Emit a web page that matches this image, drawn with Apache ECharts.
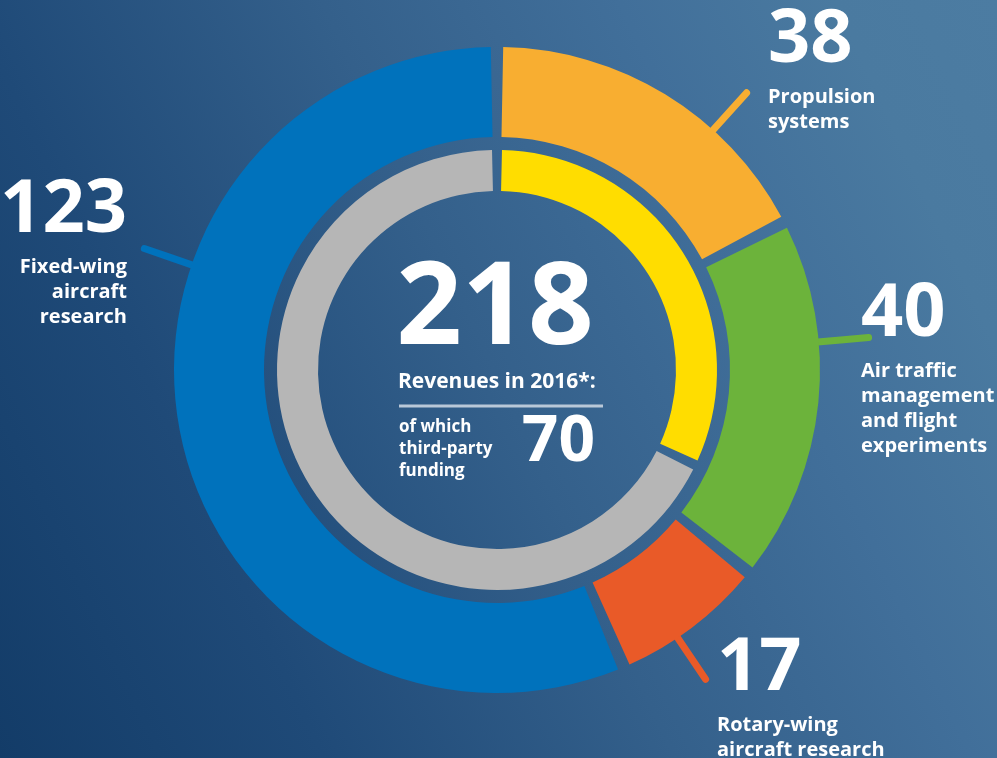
<!DOCTYPE html>
<html lang="en">
<head>
    <meta charset="utf-8">
    <title>Revenues in 2016</title>
    <script src="https://cdn.jsdelivr.net/npm/echarts@6/dist/echarts.min.js"></script>
    <style type="text/css">
        html,
        body {
            height: 100%;
            margin: 0;
        }

        body {
            background: linear-gradient(65deg, #133c68 0%, #1f4a78 24%, #34608b 50%, #416f9a 72%, #4a7aa0 88%, #4c7ca2 100%);
        }
    </style>
</head>

<body>
    <div id="main" style="width:997px;height:758px;"></div>
    <script type="text/javascript">
        // outer ring: revenues by research field
        var fieldNames = ['Propulsion\nsystems', 'Air traffic\nmanagement\nand flight\nexperiments', 'Rotary-wing\naircraft research', 'Fixed-wing\naircraft\nresearch'];
        var fieldValues = [38, 40, 17, 123];
        var fieldColors = ['#f8ae31', '#6cb33b', '#e95a28', '#0072bc'];

        // inner ring: third-party funding share
        var fundingNames = ['third-party funding', 'other'];
        var fundingValues = [70, 148];
        var fundingColors = ['#ffdd00', '#b6b6b6'];

        var centerTitle = 'Revenues in 2016*:';
        var centerSub = 'of which\nthird-party\nfunding';

        // callout placement (leader angle from 12 o'clock, label anchor)
        var callouts = [
            { angle: 42, x: 768, y: -3, align: 'left' },
            { angle: 85, x: 861, y: 271, align: 'left' },
            { angle: 146, x: 717, y: 625, align: 'left' },
            { angle: 289, x: 127, y: 167, align: 'right' }
        ];

        var FONT = '"Open Sans", "Noto Sans", sans-serif';
        var cx = 497, cy = 370;

        function polar(r, deg) {
            var a = deg * Math.PI / 180;
            return [cx + r * Math.sin(a), cy - r * Math.cos(a)];
        }

        var total = fieldValues.reduce(function (a, b) { return a + b; }, 0);

        myChart = echarts.init(document.getElementById('main'));

        option = {
            backgroundColor: 'transparent',
            series: [
                {
                    name: 'fields',
                    type: 'pie',
                    center: [cx, cy],
                    radius: [233, 323],
                    startAngle: 90,
                    clockwise: true,
                    padAngle: 2.2,
                    avoidLabelOverlap: false,
                    silent: true,
                    data: fieldValues.map(function (v, i) {
                        return { value: v, name: fieldNames[i], itemStyle: { color: fieldColors[i] } };
                    }),
                    label: {
                        show: true,
                        position: 'outside',
                        formatter: function (p) {
                            var s = callouts[p.dataIndex].align === 'right' ? 'R' : '';
                            return '{num' + s + '|' + p.value + '}\n{txt' + s + '|' +
                                p.name.split('\n').join('}\n{txt' + s + '|') + '}';
                        },
                        rich: {
                            num: { fontFamily: FONT, fontSize: 74, fontWeight: 'bold', lineHeight: 88, color: '#fff', align: 'left' },
                            txt: { fontFamily: FONT, fontSize: 20, fontWeight: 'bold', lineHeight: 25, color: '#fff', align: 'left' },
                            numR: { fontFamily: FONT, fontSize: 74, fontWeight: 'bold', lineHeight: 88, color: '#fff', align: 'right' },
                            txtR: { fontFamily: FONT, fontSize: 20, fontWeight: 'bold', lineHeight: 25, color: '#fff', align: 'right' }
                        }
                    },
                    labelLine: {
                        show: true,
                        smooth: false,
                        lineStyle: { width: 7, cap: 'round' }
                    },
                    labelLayout: function (p) {
                        var c = callouts[p.dataIndex];
                        return {
                            x: c.x,
                            y: c.y,
                            align: c.align,
                            verticalAlign: 'top',
                            labelLinePoints: [polar(316, c.angle), polar(345, c.angle), polar(373, c.angle)]
                        };
                    }
                },
                {
                    name: 'funding',
                    type: 'pie',
                    center: [cx, cy],
                    radius: [179, 220],
                    startAngle: 90,
                    clockwise: true,
                    padAngle: 2.6,
                    silent: true,
                    label: { show: false },
                    labelLine: { show: false },
                    data: fundingValues.map(function (v, i) {
                        return { value: v, name: fundingNames[i], itemStyle: { color: fundingColors[i] } };
                    })
                }
            ],
            graphic: [
                {
                    type: 'text', x: 495, y: 311,
                    style: { text: String(total), font: 'bold 115px ' + FONT, fill: '#fff', align: 'center', verticalAlign: 'middle', textAlign: 'center', textVerticalAlign: 'middle' }
                },
                {
                    type: 'text', x: 398, y: 382,
                    style: { text: centerTitle, font: 'bold 21px ' + FONT, fill: '#fff', align: 'left', verticalAlign: 'middle', textAlign: 'left', textVerticalAlign: 'middle' }
                },
                {
                    type: 'line',
                    shape: { x1: 399, y1: 406, x2: 603, y2: 406 },
                    style: { stroke: '#b9c8d8', lineWidth: 3 }
                },
                {
                    type: 'text', x: 399, y: 416,
                    style: { text: centerSub, font: 'bold 17px ' + FONT, lineHeight: 22, fill: '#fff', align: 'left', verticalAlign: 'top', textAlign: 'left', textVerticalAlign: 'top' }
                },
                {
                    type: 'text', x: 595, y: 443,
                    style: { text: String(fundingValues[0]), font: 'bold 64px ' + FONT, fill: '#fff', align: 'right', verticalAlign: 'middle', textAlign: 'right', textVerticalAlign: 'middle' }
                }
            ]
        };

        option && myChart.setOption(option);
    </script>
</body>

</html>
